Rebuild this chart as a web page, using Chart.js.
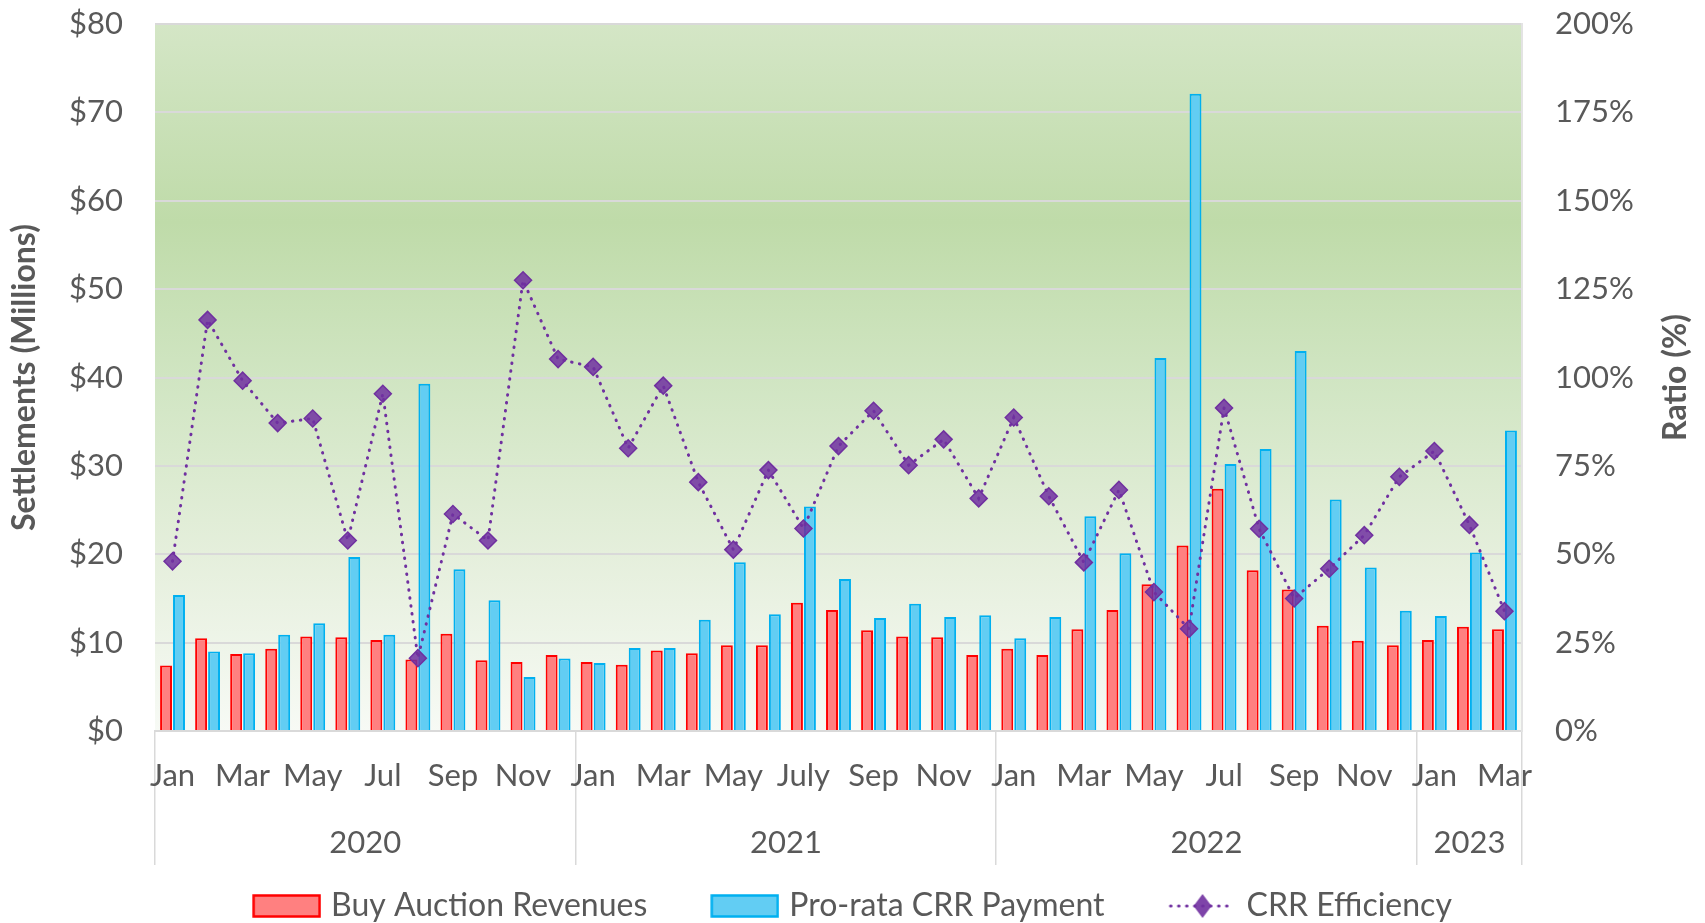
<!DOCTYPE html>
<html>
<head>
<meta charset="utf-8">
<script src="https://cdn.jsdelivr.net/npm/chart.js@4.4.1/dist/chart.umd.min.js"></script>
<style>
  html, body { margin: 0; padding: 0; background: #ffffff; }
</style>
</head>
<body>
<canvas id="crrChart" width="1705" height="923"></canvas>
<script>
/* Data */
// month labels, Jan 2020 .. Mar 2023
const monthLabels = [
  'Jan','Feb','Mar','Apr','May','Jun','Jul','Aug','Sep','Oct','Nov','Dec',
  'Jan','Feb','Mar','Apr','May','Jun','July','Aug','Sep','Oct','Nov','Dec',
  'Jan','Feb','Mar','Apr','May','Jun','Jul','Aug','Sep','Oct','Nov','Dec',
  'Jan','Feb','Mar'
];
const yearLabels = ['2020', '2021', '2022', '2023'];
const monthsPerYear = [12, 12, 12, 3];

// $ millions
const buyAuction = [
  7.4, 10.5, 8.7, 9.3, 10.7, 10.6, 10.3, 8.1, 11.0, 8.0, 7.8, 8.6,
  7.8, 7.5, 9.1, 8.8, 9.7, 9.7, 14.5, 13.7, 11.4, 10.7, 10.6, 8.6,
  9.3, 8.6, 11.5, 13.7, 16.6, 21.0, 27.4, 18.2, 16.0, 11.9, 10.2, 9.7,
  10.3, 11.8, 11.5
];
const proRata = [
  15.4, 9.0, 8.8, 10.9, 12.2, 19.7, 10.9, 39.3, 18.3, 14.8, 6.1, 8.2,
  7.7, 9.4, 9.4, 12.6, 19.1, 13.2, 25.4, 17.2, 12.8, 14.4, 12.9, 13.1,
  10.5, 12.9, 24.3, 20.1, 42.2, 72.1, 30.2, 31.9, 43.0, 26.2, 18.5, 13.6,
  13.0, 20.2, 34.0
];
// percent
const efficiency = [
  48.0, 116.3, 99.1, 87.1, 88.4, 53.9, 95.4, 20.6, 61.4, 53.9, 127.5, 105.2,
  103.0, 80.0, 97.7, 70.4, 51.3, 73.8, 57.3, 80.6, 90.6, 75.2, 82.5, 65.8,
  88.7, 66.4, 47.7, 68.2, 39.3, 28.9, 91.4, 57.2, 37.5, 45.9, 55.4, 71.9,
  79.2, 58.3, 33.9
];

const leftTitle = 'Settlements (Millions)';
const rightTitle = 'Ratio (%)';

/* Styles */
const fontFamily = 'Lato, "Open Sans", sans-serif';
const fontSize = 31;
const legendSize = 32;
const titleSize = 32;
const textColor = '#595959';
const gridColor = '#d9d9d9';
const clear = 'rgba(0,0,0,0)';

// year boundaries and centres on the category index scale
const yearBounds = [-0.5];
const yearCentres = [];
monthsPerYear.forEach((n, i) => {
  const start = yearBounds[i];
  yearBounds.push(start + n);
  yearCentres.push(start + n / 2);
});

// legend icons (icon sits at right of a wider transparent canvas)
const iconWidth = 129;
function makeIcon(kind) {
  const c = document.createElement('canvas');
  c.width = iconWidth;
  c.height = 26;
  const g = c.getContext('2d');
  const x0 = iconWidth - 69;
  if (kind === 'line') {
    g.strokeStyle = '#7030a0';
    g.lineWidth = 3;
    g.lineCap = 'round';
    g.setLineDash([0.5, 7.5]);
    g.beginPath();
    g.moveTo(x0 + 3, 13);
    g.lineTo(x0 + 67, 13);
    g.stroke();
    g.setLineDash([]);
    g.fillStyle = 'rgba(112,48,160,0.9)';
    g.beginPath();
    g.moveTo(x0 + 35, 1);
    g.lineTo(x0 + 44, 13);
    g.lineTo(x0 + 35, 25);
    g.lineTo(x0 + 26, 13);
    g.closePath();
    g.fill();
  } else {
    g.fillStyle = kind === 'red' ? '#ff8080' : '#62cdf3';
    g.strokeStyle = kind === 'red' ? '#ff0000' : '#00b0f0';
    g.lineWidth = 2.5;
    g.fillRect(x0 + 1, 2, 67, 22);
    g.strokeRect(x0 + 1.5, 2.5, 66, 21);
  }
  return c;
}
const legendIcons = [makeIcon('red'), makeIcon('blue'), makeIcon('line')];

// Plot area background gradient
const plotBackground = {
  id: 'plotBackground',
  beforeDraw(chart) {
    const { ctx, chartArea: a } = chart;
    const g = ctx.createLinearGradient(0, a.top, 0, a.bottom);
    g.addColorStop(0, '#d4e6c6');
    g.addColorStop(0.28, '#bfdba9');
    g.addColorStop(0.5, '#d0e5c2');
    g.addColorStop(0.75, '#e5efdc');
    g.addColorStop(1, '#f7faf5');
    ctx.save();
    ctx.fillStyle = g;
    ctx.fillRect(a.left, a.top, a.right - a.left, a.bottom - a.top);
    ctx.restore();
  }
};

// right axis title reads bottom-to-top like the left one
const rightAxisTitle = {
  id: 'rightAxisTitle',
  afterDraw(chart) {
    const { ctx, chartArea: a } = chart;
    ctx.save();
    ctx.translate(a.right + 154, (a.top + a.bottom) / 2);
    ctx.rotate(-Math.PI / 2);
    ctx.font = 'bold ' + titleSize + 'px ' + fontFamily;
    ctx.fillStyle = textColor;
    ctx.textAlign = 'center';
    ctx.textBaseline = 'middle';
    ctx.fillText(rightTitle, 0, 0);
    ctx.restore();
  }
};

const ctx = document.getElementById('crrChart').getContext('2d');

const crrChart = new Chart(ctx, {
  data: {
    labels: monthLabels,
    datasets: [{
      type: 'bar',
      label: 'Buy Auction Revenues',
      data: buyAuction,
      backgroundColor: '#ff8080',
      borderColor: '#ff0000',
      borderWidth: 2,
      barPercentage: 0.92,
      categoryPercentage: 0.74,
      xAxisID: 'x',
      yAxisID: 'y',
      order: 1
    },
    {
      type: 'bar',
      label: 'Pro-rata CRR Payment',
      data: proRata,
      backgroundColor: '#62cdf3',
      borderColor: '#00b0f0',
      borderWidth: 2,
      barPercentage: 0.92,
      categoryPercentage: 0.74,
      xAxisID: 'x',
      yAxisID: 'y',
      order: 1
    },
    {
      type: 'line',
      label: 'CRR Efficiency',
      data: efficiency,
      borderColor: '#7030a0',
      borderWidth: 3,
      borderDash: [0.5, 7.5],
      borderCapStyle: 'round',
      pointStyle: 'rectRot',
      pointRadius: 8.5,
      pointBackgroundColor: 'rgba(112,48,160,0.85)',
      pointBorderColor: '#7030a0',
      pointBorderWidth: 1.5,
      tension: 0,
      fill: false,
      xAxisID: 'x',
      yAxisID: 'y1',
      order: 0
    }]
  },
  options: {
    responsive: false,
    animation: false,
    layout: {
      padding: { top: 24, right: 55, bottom: -9, left: 0 }
    },
    plugins: {
      tooltip: { enabled: false },
      legend: {
        position: 'bottom',
        labels: {
          usePointStyle: true,
          pointStyleWidth: iconWidth - 12,
          padding: 9,
          color: textColor,
          font: { family: fontFamily, size: legendSize },
          generateLabels: chart => chart.data.datasets.map((ds, i) => ({
            text: ds.label,
            pointStyle: legendIcons[i],
            fillStyle: clear,
            strokeStyle: clear,
            lineWidth: 0,
            fontColor: textColor,
            hidden: false,
            datasetIndex: i
          }))
        }
      }
    },
    scales: {
      x: {
        type: 'category',
        position: 'bottom',
        offset: true,
        grid: {
          offset: true,
          drawOnChartArea: false,
          drawTicks: true,
          tickLength: 70,
          lineWidth: 1.5,
          color: c => (c.index === undefined || c.index % 12 === 0) ? gridColor : clear
        },
        border: { display: true, color: gridColor, width: 2 },
        ticks: {
          autoSkip: false,
          maxRotation: 0,
          minRotation: 0,
          padding: -44,
          color: textColor,
          font: { family: fontFamily, size: fontSize },
          callback: (v, i) => i % 2 === 0 ? monthLabels[i] : ''
        },
        afterFit: s => { s.height = 70; }
      },
      x2: {
        type: 'linear',
        position: 'bottom',
        min: -0.5,
        max: 38.5,
        offset: false,
        grid: {
          drawOnChartArea: false,
          drawTicks: true,
          tickLength: 64,
          lineWidth: 1.5,
          color: c => (c.tick && yearBounds.includes(c.tick.value)) ? gridColor : clear
        },
        border: { display: false },
        ticks: {
          autoSkip: false,
          maxRotation: 0,
          minRotation: 0,
          padding: -41,
          color: textColor,
          font: { family: fontFamily, size: fontSize },
          callback: v => {
            const k = yearCentres.indexOf(v);
            return k >= 0 ? yearLabels[k] : '';
          }
        },
        afterBuildTicks: s => {
          s.ticks = yearBounds.concat(yearCentres).sort((a, b) => a - b).map(v => ({ value: v }));
        },
        afterFit: s => { s.height = 80; }
      },
      y: {
        position: 'left',
        min: 0,
        max: 80,
        ticks: {
          stepSize: 10,
          padding: 0,
          color: textColor,
          font: { family: fontFamily, size: fontSize },
          callback: v => '$' + v
        },
        grid: { color: gridColor, lineWidth: 2, drawTicks: true, tickLength: 32, tickColor: clear },
        border: { display: false },
        title: {
          display: true,
          text: leftTitle,
          color: textColor,
          font: { family: fontFamily, size: titleSize, weight: 'bold' },
          padding: { top: 5, bottom: 0 }
        },
        afterFit: s => { s.width = 155; }
      },
      y1: {
        position: 'right',
        min: 0,
        max: 200,
        ticks: {
          stepSize: 25,
          padding: 0,
          color: textColor,
          font: { family: fontFamily, size: fontSize },
          callback: v => v + '%'
        },
        grid: { display: true, drawOnChartArea: false, drawTicks: true, tickLength: 33, tickColor: clear },
        border: { display: true, color: '#e3e3e3', width: 2 },
        afterFit: s => { s.width = 128; }
      }
    }
  },
  plugins: [plotBackground, rightAxisTitle]
});
</script>
</body>
</html>
